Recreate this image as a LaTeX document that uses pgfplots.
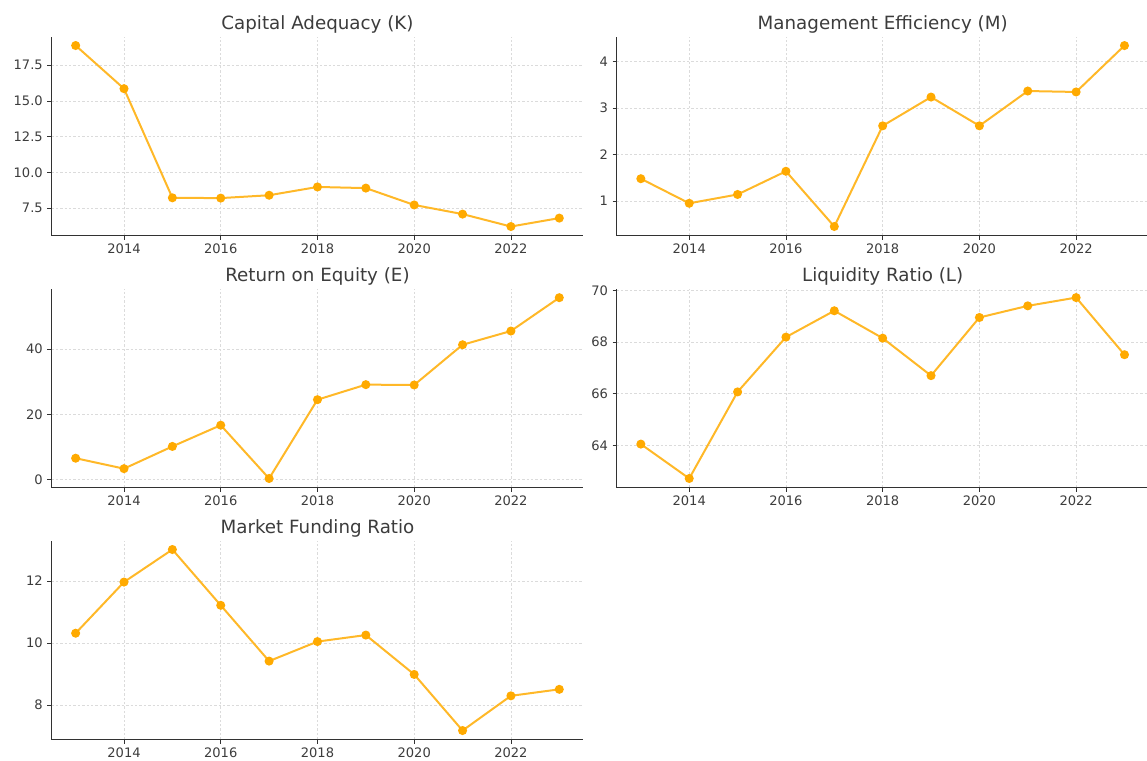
\documentclass[border=0pt]{standalone}
\usepackage{pgfplots}
\pgfplotsset{compat=1.18}
\usepackage{fontspec}
\setmainfont{DejaVu Sans}

\definecolor{linec}{RGB}{255,184,40}
\definecolor{markc}{RGB}{255,170,0}
\definecolor{txt}{RGB}{60,60,60}
\definecolor{spine}{RGB}{50,50,50}

\pgfplotsset{
  panel/.style={
    scale only axis, width=399pt, height=149.25pt, anchor=south west,
    axis lines*=left, axis line style={spine, line width=0.9pt},
    xmin=2012.5, xmax=2023.5, xtick={2014,2016,...,2022},
    tick align=outside, tick style={spine, line width=0.6pt},
    major tick length=3pt,
    grid=major, grid style={dash pattern=on 1.8pt off 1.5pt, gray!28, line width=0.5pt},
    ticklabel style={font=\fontsize{9.8pt}{11pt}\selectfont, text=txt},
    /pgf/number format/assume math mode=true,
    /pgf/number format/.cd, 1000 sep={},
    /tikz/.cd,
    title style={font=\fontsize{13.7pt}{15pt}\selectfont, text=txt, yshift=-7pt},
    clip=false,
  },
  ser/.style={color=linec, line width=1.5pt, mark=*, mark size=2.6pt,
    mark options={fill=markc, draw=markc}},
}

\begin{document}
\begin{tikzpicture}
\path[use as bounding box] (0,0) rectangle (860.25pt,570.75pt);

\begin{axis}[panel, at={(38.6pt,394.1pt)}, title={Capital Adequacy (K)},
  ymin=5.58, ymax=19.51, ytick={7.5,10,...,17.5},
  yticklabel style={/pgf/number format/.cd, fixed, fixed zerofill, precision=1}]
  \addplot[ser] coordinates {(2013,18.88)(2014,15.86)(2015,8.22)(2016,8.20)(2017,8.40)(2018,8.98)(2019,8.90)(2020,7.72)(2021,7.08)(2022,6.21)(2023,6.80)};
\end{axis}

\begin{axis}[panel, at={(462.5pt,394.1pt)}, title={Management Efficiency (M)},
  ymin=0.255, ymax=4.545, ytick={1,2,3,4}]
  \addplot[ser] coordinates {(2013,1.48)(2014,0.95)(2015,1.14)(2016,1.64)(2017,0.45)(2018,2.62)(2019,3.24)(2020,2.62)(2021,3.37)(2022,3.35)(2023,4.35)};
\end{axis}

\begin{axis}[panel, at={(38.6pt,205.1pt)}, title={Return on Equity (E)},
  ymin=-2.37, ymax=58.5, ytick={0,20,40}]
  \addplot[ser] coordinates {(2013,6.6)(2014,3.4)(2015,10.2)(2016,16.7)(2017,0.4)(2018,24.5)(2019,29.1)(2020,29.0)(2021,41.3)(2022,45.5)(2023,55.7)};
\end{axis}

\begin{axis}[panel, at={(462.5pt,205.1pt)}, title={Liquidity Ratio (L)},
  ymin=62.37, ymax=70.07, ytick={64,66,68,70}]
  \addplot[ser] coordinates {(2013,64.05)(2014,62.72)(2015,66.07)(2016,68.19)(2017,69.21)(2018,68.15)(2019,66.70)(2020,68.95)(2021,69.40)(2022,69.72)(2023,67.51)};
\end{axis}

\begin{axis}[panel, at={(38.6pt,16.1pt)}, title={Market Funding Ratio},
  ymin=6.89, ymax=13.31, ytick={8,10,12}]
  \addplot[ser] coordinates {(2013,10.32)(2014,11.97)(2015,13.02)(2016,11.22)(2017,9.42)(2018,10.05)(2019,10.26)(2020,8.99)(2021,7.18)(2022,8.30)(2023,8.51)};
\end{axis}
\end{tikzpicture}
\end{document}
